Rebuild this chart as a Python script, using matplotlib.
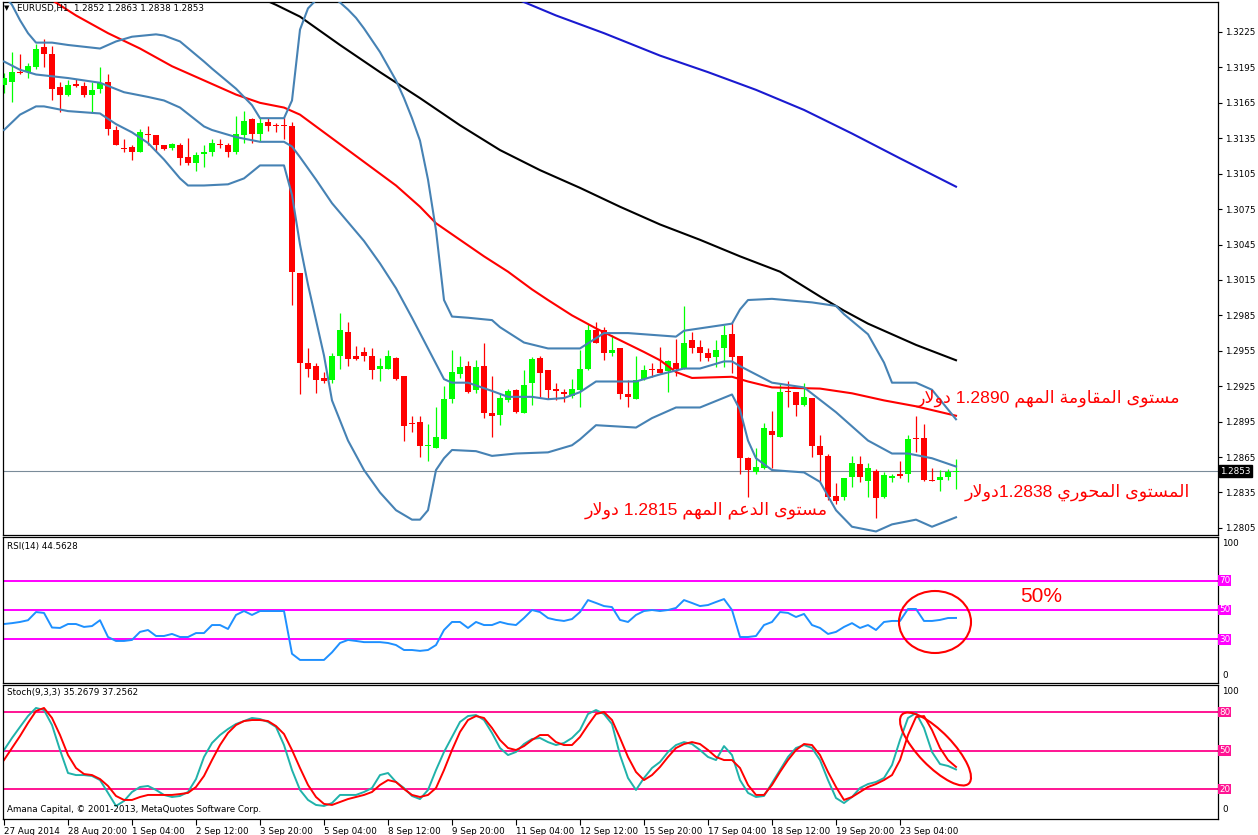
import re
import matplotlib
matplotlib.use('agg')
import matplotlib.pyplot as plt
from matplotlib.patches import Ellipse
import numpy as np

plt.rcParams['font.family'] = ['DejaVu Sans']
plt.rcParams['font.size'] = 6.3

W, H = 1258, 835

# EURUSD candles, oldest first
opens = [1.3180, 1.3183, 1.3191, 1.3191, 1.3195, 1.3212, 1.3206, 1.3178, 1.3172, 1.3181,
         1.3179, 1.3172, 1.3177, 1.3183, 1.3142, 1.3127, 1.3128, 1.3123, 1.3139, 1.3138,
         1.3129, 1.3127, 1.3129, 1.3119, 1.3114, 1.3122, 1.3123, 1.3130, 1.3129, 1.3123,
         1.3138, 1.3151, 1.3139, 1.3149, 1.3146, 1.3146, 1.3145, 1.3021, 1.2945, 1.2942,
         1.2932, 1.2930, 1.2951, 1.2971, 1.2951, 1.2954, 1.2951, 1.2940, 1.2940, 1.2949,
         1.2934, 1.2894, 1.2895, 1.2874, 1.2873, 1.2880, 1.2914, 1.2935, 1.2942, 1.2922,
         1.2942, 1.2902, 1.2901, 1.2913, 1.2922, 1.2902, 1.2928, 1.2949, 1.2939, 1.2923,
         1.2920, 1.2917, 1.2922, 1.2940, 1.2973, 1.2973, 1.2953, 1.2957, 1.2918, 1.2914,
         1.2931, 1.2940, 1.2940, 1.2938, 1.2945, 1.2940, 1.2964, 1.2958, 1.2953, 1.2950,
         1.2957, 1.2969, 1.2951, 1.2864, 1.2852, 1.2856, 1.2887, 1.2882, 1.2921, 1.2920,
         1.2909, 1.2915, 1.2874, 1.2866, 1.2832, 1.2831, 1.2848, 1.2859, 1.2845, 1.2853,
         1.2831, 1.2847, 1.2851, 1.2851, 1.2881, 1.2881, 1.2846, 1.2846, 1.2848, 1.2852]
highs = [1.3190, 1.3208, 1.3206, 1.3199, 1.3215, 1.3219, 1.3213, 1.3183, 1.3184, 1.3185,
         1.3183, 1.3183, 1.3195, 1.3189, 1.3145, 1.3134, 1.3129, 1.3143, 1.3145, 1.3138,
         1.3129, 1.3131, 1.3131, 1.3135, 1.3123, 1.3129, 1.3134, 1.3134, 1.3131, 1.3154,
         1.3158, 1.3152, 1.3152, 1.3152, 1.3148, 1.3153, 1.3149, 1.3021, 1.2957, 1.2945,
         1.2937, 1.2953, 1.2987, 1.2979, 1.2959, 1.2958, 1.2957, 1.2949, 1.2956, 1.2950,
         1.2934, 1.2900, 1.2900, 1.2893, 1.2907, 1.2925, 1.2956, 1.2951, 1.2946, 1.2947,
         1.2962, 1.2934, 1.2919, 1.2923, 1.2923, 1.2939, 1.2950, 1.2951, 1.2939, 1.2928,
         1.2923, 1.2931, 1.2956, 1.2978, 1.2979, 1.2975, 1.2968, 1.2957, 1.2930, 1.2951,
         1.2943, 1.2945, 1.2958, 1.2947, 1.2965, 1.2993, 1.2971, 1.2964, 1.2957, 1.2964,
         1.2977, 1.2979, 1.2951, 1.2865, 1.2873, 1.2894, 1.2904, 1.2927, 1.2929, 1.2920,
         1.2928, 1.2915, 1.2884, 1.2868, 1.2843, 1.2847, 1.2866, 1.2866, 1.2860, 1.2855,
         1.2852, 1.2851, 1.2862, 1.2884, 1.2900, 1.2893, 1.2856, 1.2854, 1.2855, 1.2863]
lows = [1.3173, 1.3166, 1.3189, 1.3186, 1.3194, 1.3195, 1.3167, 1.3157, 1.3171, 1.3178,
        1.3170, 1.3156, 1.3173, 1.3138, 1.3129, 1.3123, 1.3117, 1.3123, 1.3129, 1.3124,
        1.3125, 1.3125, 1.3112, 1.3112, 1.3107, 1.3111, 1.3120, 1.3127, 1.3119, 1.3122,
        1.3131, 1.3131, 1.3133, 1.3141, 1.3140, 1.3134, 1.2994, 1.2918, 1.2933, 1.2919,
        1.2928, 1.2928, 1.2940, 1.2942, 1.2947, 1.2946, 1.2931, 1.2929, 1.2940, 1.2930,
        1.2879, 1.2886, 1.2865, 1.2862, 1.2873, 1.2880, 1.2911, 1.2932, 1.2919, 1.2919,
        1.2898, 1.2882, 1.2892, 1.2912, 1.2902, 1.2902, 1.2909, 1.2915, 1.2914, 1.2913,
        1.2912, 1.2915, 1.2907, 1.2939, 1.2962, 1.2947, 1.2951, 1.2914, 1.2907, 1.2914,
        1.2930, 1.2933, 1.2936, 1.2920, 1.2934, 1.2940, 1.2953, 1.2946, 1.2946, 1.2941,
        1.2941, 1.2936, 1.2851, 1.2831, 1.2851, 1.2855, 1.2856, 1.2882, 1.2907, 1.2900,
        1.2908, 1.2865, 1.2844, 1.2829, 1.2825, 1.2829, 1.2840, 1.2844, 1.2831, 1.2813,
        1.2830, 1.2844, 1.2847, 1.2844, 1.2869, 1.2845, 1.2845, 1.2836, 1.2846, 1.2838]
closes = [1.3186, 1.3191, 1.3190, 1.3196, 1.3211, 1.3206, 1.3177, 1.3172, 1.3180, 1.3179,
          1.3172, 1.3176, 1.3182, 1.3143, 1.3129, 1.3126, 1.3123, 1.3140, 1.3138, 1.3129,
          1.3126, 1.3130, 1.3118, 1.3114, 1.3121, 1.3123, 1.3131, 1.3129, 1.3123, 1.3139,
          1.3150, 1.3139, 1.3148, 1.3145, 1.3145, 1.3145, 1.3022, 1.2945, 1.2940, 1.2930,
          1.2929, 1.2951, 1.2973, 1.2948, 1.2948, 1.2951, 1.2939, 1.2942, 1.2951, 1.2931,
          1.2891, 1.2893, 1.2874, 1.2875, 1.2882, 1.2914, 1.2937, 1.2941, 1.2920, 1.2941,
          1.2902, 1.2900, 1.2915, 1.2921, 1.2903, 1.2926, 1.2948, 1.2936, 1.2922, 1.2921,
          1.2918, 1.2923, 1.2940, 1.2973, 1.2962, 1.2953, 1.2956, 1.2918, 1.2916, 1.2930,
          1.2939, 1.2939, 1.2936, 1.2946, 1.2940, 1.2962, 1.2957, 1.2953, 1.2949, 1.2956,
          1.2968, 1.2950, 1.2864, 1.2854, 1.2857, 1.2890, 1.2884, 1.2920, 1.2920, 1.2909,
          1.2916, 1.2874, 1.2867, 1.2831, 1.2828, 1.2847, 1.2860, 1.2848, 1.2856, 1.2830,
          1.2850, 1.2849, 1.2849, 1.2880, 1.2880, 1.2846, 1.2845, 1.2848, 1.2852, 1.2853]

# Bollinger bands and moving averages, read as (bar, price) vertices
bb_up_bars = [0, 1, 2, 3, 4, 6, 8, 12, 14, 16, 19, 20, 22, 25, 26, 29, 31, 32, 35, 36,
              37, 38, 39, 40, 41, 42, 43, 44, 45, 46, 47, 48, 49, 50, 51, 52, 53, 54, 55, 56,
              58, 61, 62, 65, 68, 72, 75, 78, 84, 85, 91, 92, 93, 96, 101, 104, 105, 108, 110, 111,
              114, 116, 119]
bb_up = [1.3256, 1.3248, 1.3235, 1.3224, 1.3216, 1.3216, 1.3214, 1.3211, 1.3217, 1.3221,
         1.3223, 1.3222, 1.3217, 1.3200, 1.3194, 1.3177, 1.3163, 1.3152, 1.3152, 1.3167,
         1.3227, 1.3245, 1.3252, 1.3256, 1.3255, 1.3250, 1.3244, 1.3237, 1.3228, 1.3218,
         1.3208, 1.3196, 1.3184, 1.3169, 1.3152, 1.3133, 1.3100, 1.3057, 1.2998, 1.2984,
         1.2983, 1.2981, 1.2975, 1.2962, 1.2957, 1.2957, 1.2970, 1.2970, 1.2967, 1.2972,
         1.2978, 1.2990, 1.2998, 1.2999, 1.2996, 1.2993, 1.2986, 1.2969, 1.2945, 1.2928,
         1.2928, 1.2922, 1.2897]
bb_mid_bars = [0, 2, 4, 8, 12, 15, 18, 20, 22, 25, 26, 29, 32, 35, 36, 37, 39, 41, 43, 45,
               47, 49, 51, 53, 55, 56, 58, 61, 63, 66, 68, 70, 72, 74, 79, 82, 85, 87, 90, 91,
               92, 96, 100, 104, 108, 111, 113, 116, 119]
bb_mid = [1.3200, 1.3193, 1.3189, 1.3186, 1.3182, 1.3174, 1.3170, 1.3167, 1.3161, 1.3145,
          1.3142, 1.3136, 1.3132, 1.3132, 1.3128, 1.3119, 1.3100, 1.3080, 1.3064, 1.3048,
          1.3029, 1.3008, 1.2983, 1.2957, 1.2931, 1.2928, 1.2928, 1.2921, 1.2916, 1.2916,
          1.2914, 1.2915, 1.2920, 1.2929, 1.2929, 1.2935, 1.2940, 1.2940, 1.2946, 1.2946,
          1.2942, 1.2928, 1.2924, 1.2903, 1.2879, 1.2868, 1.2868, 1.2864, 1.2857]
bb_low_bars = [0, 2, 4, 5, 8, 12, 14, 16, 18, 20, 22, 23, 25, 28, 30, 32, 35, 36, 37, 38,
               39, 40, 41, 43, 45, 47, 49, 51, 52, 53, 54, 55, 56, 59, 61, 64, 68, 71, 72, 74,
               79, 81, 84, 87, 91, 92, 93, 94, 96, 100, 102, 104, 106, 109, 111, 114, 116, 119]
bb_low = [1.3142, 1.3155, 1.3162, 1.3162, 1.3158, 1.3156, 1.3147, 1.3140, 1.3131, 1.3117,
          1.3101, 1.3095, 1.3095, 1.3096, 1.3101, 1.3112, 1.3112, 1.3087, 1.3045, 1.3011,
          1.2981, 1.2951, 1.2913, 1.2879, 1.2854, 1.2835, 1.2820, 1.2812, 1.2812, 1.2820,
          1.2854, 1.2864, 1.2871, 1.2870, 1.2866, 1.2868, 1.2869, 1.2875, 1.2880, 1.2892,
          1.2890, 1.2898, 1.2907, 1.2907, 1.2918, 1.2905, 1.2879, 1.2864, 1.2854, 1.2852,
          1.2844, 1.2820, 1.2806, 1.2802, 1.2808, 1.2812, 1.2806, 1.2814]
ma_red_bars = [5, 6, 9, 13, 17, 21, 25, 29, 32, 35, 37, 39, 43, 45, 49, 52, 54, 57, 60, 63,
               66, 68, 71, 74, 77, 80, 82, 84, 86, 91, 93, 96, 102, 106, 110, 114, 119]
ma_red = [1.3262, 1.3252, 1.3239, 1.3224, 1.3211, 1.3196, 1.3184, 1.3172, 1.3165, 1.3161,
          1.3155, 1.3145, 1.3125, 1.3115, 1.3095, 1.3077, 1.3063, 1.3049, 1.3035, 1.3022,
          1.3007, 1.2998, 1.2985, 1.2974, 1.2964, 1.2954, 1.2947, 1.2937, 1.2932, 1.2933,
          1.2929, 1.2924, 1.2923, 1.2919, 1.2913, 1.2908, 1.2900]
ma_black_bars = [32, 34, 37, 42, 47, 52, 57, 62, 67, 72, 77, 82, 87, 92, 97, 102, 105, 108, 111, 114, 119]
ma_black = [1.3254, 1.3248, 1.3238, 1.3214, 1.3191, 1.3169, 1.3146, 1.3125, 1.3108, 1.3093,
            1.3077, 1.3062, 1.3049, 1.3035, 1.3022, 1.3001, 1.2989, 1.2978, 1.2969, 1.2960, 1.2947]
ma_blue_bars = [63, 69, 75, 82, 88, 94, 100, 106, 112, 119]
ma_blue = [1.3256, 1.3239, 1.3224, 1.3205, 1.3191, 1.3176, 1.3159, 1.3139, 1.3118, 1.3094]

rsi = [40.4, 41.0, 41.8, 43.0, 48.6, 48.0, 38.0, 37.7, 40.4, 40.4,
       38.4, 39.0, 43.0, 31.5, 28.8, 28.8, 29.5, 35.0, 36.3, 32.2,
       32.2, 33.6, 31.5, 31.5, 34.2, 34.2, 39.7, 39.7, 37.0, 46.6,
       49.3, 46.6, 49.3, 49.3, 49.3, 49.3, 20.0, 15.8, 15.8, 15.8,
       15.8, 21.0, 27.4, 29.5, 28.8, 28.0, 28.0, 28.0, 27.4, 26.0,
       22.6, 22.6, 22.0, 22.6, 26.0, 36.3, 41.8, 41.8, 37.7, 41.8,
       39.7, 39.7, 41.8, 40.4, 39.7, 44.5, 50.0, 48.6, 44.5, 43.2,
       42.5, 43.8, 48.6, 56.8, 54.8, 52.7, 52.0, 43.2, 41.8, 46.6,
       49.3, 50.0, 49.3, 50.0, 51.4, 56.8, 54.8, 52.7, 53.4, 55.5,
       57.5, 50.0, 31.5, 31.5, 32.2, 39.7, 41.8, 48.6, 48.0, 45.2,
       47.3, 39.7, 37.7, 33.6, 35.0, 38.4, 41.0, 37.7, 39.7, 36.3,
       41.8, 42.5, 42.5, 50.7, 50.7, 42.5, 42.5, 43.2, 44.5, 44.5628]
stoch_k = [50.4, 59.8, 68.4, 76.9, 83.2, 81.6, 69.9, 50.4, 32.5, 30.9,
           30.9, 30.2, 27.0, 17.0, 6.8, 10.7, 17.7, 21.6, 22.4, 19.3,
           15.4, 13.8, 14.6, 17.7, 27.8, 45.0, 55.9, 62.1, 66.8, 70.7,
           73.0, 75.4, 74.6, 72.3, 68.4, 54.3, 34.8, 19.3, 11.5, 7.6,
           6.8, 9.1, 15.4, 15.4, 15.4, 17.7, 20.8, 30.9, 32.5, 25.5,
           20.8, 14.6, 12.2, 19.3, 34.8, 48.9, 60.6, 72.3, 76.9, 77.7,
           73.8, 63.7, 52.0, 46.5, 48.9, 55.1, 59.0, 59.8, 56.6, 54.3,
           55.9, 59.8, 66.0, 78.5, 81.6, 78.5, 70.7, 46.5, 28.6, 19.3,
           28.6, 36.4, 41.1, 48.9, 54.3, 56.6, 55.1, 50.4, 45.0, 42.6,
           53.5, 46.5, 27.0, 17.0, 13.8, 14.6, 24.7, 34.8, 45.0, 52.0,
           54.3, 52.0, 42.6, 27.0, 13.0, 9.1, 13.8, 20.8, 23.9, 25.5,
           28.6, 38.7, 58.2, 75.4, 79.3, 67.6, 48.9, 39.5, 38.0, 35.2679]
stoch_d = [42.6, 52.0, 61.3, 71.5, 80.8, 83.2, 75.4, 62.1, 46.5, 36.4,
           31.7, 30.9, 27.8, 22.4, 14.6, 11.5, 11.5, 13.8, 15.4, 15.4,
           15.4, 15.4, 16.1, 17.0, 21.6, 30.2, 42.6, 54.3, 63.7, 69.9,
           73.0, 73.8, 73.8, 73.0, 69.1, 62.9, 50.4, 36.4, 23.2, 13.8,
           8.4, 7.6, 9.9, 12.2, 13.8, 15.4, 17.7, 23.2, 27.0, 25.5,
           20.0, 15.4, 13.8, 15.4, 20.8, 34.8, 50.4, 64.5, 73.8, 76.9,
           75.4, 67.6, 58.2, 52.0, 50.4, 53.5, 58.2, 62.1, 62.1, 56.6,
           54.3, 54.3, 60.6, 69.9, 78.5, 80.0, 73.8, 59.8, 45.0, 33.3,
           27.0, 30.9, 37.2, 45.0, 52.0, 55.1, 56.6, 55.1, 50.4, 45.0,
           42.6, 42.6, 36.4, 23.2, 15.4, 15.4, 23.2, 33.3, 42.6, 50.4,
           55.1, 54.3, 46.5, 33.3, 21.6, 11.5, 13.8, 17.7, 21.6, 23.9,
           27.0, 30.9, 42.6, 62.1, 76.1, 76.9, 66.0, 52.0, 42.6, 37.2562]

price_ticks = [1.3225, 1.3195, 1.3165, 1.3135, 1.3105, 1.3075, 1.3045, 1.3015,
               1.2985, 1.2955, 1.2925, 1.2895, 1.2865, 1.2835, 1.2805]
rsi_levels = [70, 50, 30]
stoch_levels = [80, 50, 20]
time_bars = [0, 8, 16, 24, 32, 40, 48, 56, 64, 72, 80, 88, 96, 104, 112]
time_labels = ['27 Aug 2014', '28 Aug 20:00', '1 Sep 04:00', '2 Sep 12:00', '3 Sep 20:00',
               '5 Sep 04:00', '8 Sep 12:00', '9 Sep 20:00', '11 Sep 04:00', '12 Sep 12:00',
               '15 Sep 20:00', '17 Sep 04:00', '18 Sep 12:00', '19 Sep 20:00', '23 Sep 04:00']

note_resistance = 'مستوى المقاومة المهم 1.2890 دولار'
note_pivot = 'المستوى المحوري 1.2838دولار'
note_support = 'مستوى الدعم المهم 1.2815 دولار'

# contextual forms (isolated, final[, initial, medial]) for the letters used
ARABIC_FORMS = {
    '\u0627': ('\uFE8D', '\uFE8E'),
    '\u062F': ('\uFEA9', '\uFEAA'),
    '\u0631': ('\uFEAD', '\uFEAE'),
    '\u0648': ('\uFEED', '\uFEEE'),
    '\u0629': ('\uFE93', '\uFE94'),
    '\u0649': ('\uFEEF', '\uFEF0'),
    '\u0645': ('\uFEE1', '\uFEE2', '\uFEE3', '\uFEE4'),
    '\u0633': ('\uFEB1', '\uFEB2', '\uFEB3', '\uFEB4'),
    '\u062A': ('\uFE95', '\uFE96', '\uFE97', '\uFE98'),
    '\u0644': ('\uFEDD', '\uFEDE', '\uFEDF', '\uFEE0'),
    '\u0642': ('\uFED5', '\uFED6', '\uFED7', '\uFED8'),
    '\u0647': ('\uFEE9', '\uFEEA', '\uFEEB', '\uFEEC'),
    '\u062D': ('\uFEA1', '\uFEA2', '\uFEA3', '\uFEA4'),
    '\u064A': ('\uFEF1', '\uFEF2', '\uFEF3', '\uFEF4'),
    '\u0639': ('\uFEC9', '\uFECA', '\uFECB', '\uFECC'),
}


def shape_arabic(text):
    # matplotlib has no Arabic shaping, so join the letters and lay them out right to left
    out = []
    prev_joins = False
    i = 0
    while i < len(text):
        ch = text[i]
        nxt = text[i + 1] if i + 1 < len(text) else ''
        if ch not in ARABIC_FORMS:
            out.append(ch)
            prev_joins = False
            i += 1
            continue
        if ch == '\u0644' and nxt == '\u0627':
            out.append('\uFEFC' if prev_joins else '\uFEFB')
            prev_joins = False
            i += 2
            continue
        forms = ARABIC_FORMS[ch]
        next_ok = len(forms) == 4 and nxt in ARABIC_FORMS
        if prev_joins and next_ok:
            out.append(forms[3])
        elif prev_joins:
            out.append(forms[1])
        elif next_ok:
            out.append(forms[2])
        else:
            out.append(forms[0])
        prev_joins = len(forms) == 4
        i += 1
    vis = ''.join(reversed(out))
    return re.sub(r'[0-9.]+', lambda m: m.group(0)[::-1], vis)


def fx(x):
    return x / W


def fy(y):
    return 1 - y / H


fig = plt.figure(figsize=(W / 100, H / 100), dpi=100)
fig.patch.set_facecolor('white')


def panel(top, bottom):
    ax = fig.add_axes([fx(3), fy(bottom), fx(1218) - fx(3), fy(top) - fy(bottom)])
    ax.set_xlim(-0.125, 151.75)
    ax.yaxis.tick_right()
    ax.tick_params(axis='y', direction='out', length=3, width=0.8, pad=2, labelsize=6.3)
    ax.tick_params(axis='x', bottom=False, labelbottom=False)
    for sp in ax.spines.values():
        sp.set_linewidth(0.9)
    return ax


idx = np.arange(len(closes))
o = np.array(opens)
h = np.array(highs)
l = np.array(lows)
c = np.array(closes)
colors = np.where(c >= o, '#00FF00', '#FF0000')

# --- price window
ax = panel(2, 535)
ax.set_ylim(1.27990, 1.32504)
ax.set_yticks(price_ticks)
ax.set_yticklabels(['%.4f' % p for p in price_ticks])
ax.axhline(closes[-1], color='#7A8B99', lw=0.8, zorder=1)
ax.vlines(idx, l, h, colors=colors, lw=0.9, zorder=2)
ax.bar(idx, np.maximum(np.abs(c - o), 0.00009), bottom=np.minimum(o, c),
       width=0.65, color=colors, lw=0, zorder=3)
ax.plot(ma_blue_bars, ma_blue, color='#1A1AD0', lw=1.5, zorder=4)
ax.plot(ma_black_bars, ma_black, color='black', lw=1.5, zorder=4)
ax.plot(ma_red_bars, ma_red, color='#FF0000', lw=1.5, zorder=4)
for bars, vals in ((bb_up_bars, bb_up), (bb_mid_bars, bb_mid), (bb_low_bars, bb_low)):
    ax.plot(bars, vals, color='#4682B4', lw=1.5, zorder=5)
ax.text(1.0015, closes[-1], '%.4f' % closes[-1], transform=ax.get_yaxis_transform(),
        ha='left', va='center', color='white', fontsize=6.3,
        bbox=dict(boxstyle='square,pad=0.15', fc='black', ec='black'))
fig.text(fx(4), fy(8), '\u25BC', fontsize=5, va='center')
fig.text(fx(17), fy(9), 'EURUSD,H1  %.4f %.4f %.4f %.4f' % (opens[-1], highs[-1], lows[-1], closes[-1]),
         va='center')

# --- RSI window
ax2 = panel(537, 683)
ax2.set_ylim(0, 100)
ax2.set_yticks([])
for lv in rsi_levels:
    ax2.axhline(lv, color='#FF00FF', lw=1.4)
    ax2.text(1.0008, lv, str(lv), transform=ax2.get_yaxis_transform(), ha='left', va='center',
             color='white', fontsize=6.3, bbox=dict(boxstyle='square,pad=0.1', fc='#FF00FF', ec='none'))
ax2.plot(idx, rsi, color='#1E90FF', lw=1.4)
fig.text(fx(7), fy(546), 'RSI(14) %.4f' % rsi[-1], va='center')
fig.text(fx(1222), fy(544), '100', va='center')
fig.text(fx(1222), fy(676), '0', va='center')

# --- Stochastic window
ax3 = panel(685, 819)
ax3.set_ylim(-3.35, 101.1)
ax3.set_yticks([])
for lv in stoch_levels:
    ax3.axhline(lv, color='#FF1493', lw=1.4)
    ax3.text(1.0008, lv, str(lv), transform=ax3.get_yaxis_transform(), ha='left', va='center',
             color='white', fontsize=6.3, bbox=dict(boxstyle='square,pad=0.1', fc='#FF1493', ec='none'))
ax3.plot(idx, stoch_k, color='#20B2AA', lw=1.4)
ax3.plot(idx, stoch_d, color='#FF0000', lw=1.4)
ax3.set_xticks(time_bars)
ax3.set_xticklabels(time_labels, ha='left')
ax3.tick_params(axis='x', bottom=True, labelbottom=True, length=4, width=0.8, pad=1.5, labelsize=6.3)
fig.text(fx(7), fy(692), 'Stoch(9,3,3) %.4f %.4f' % (stoch_k[-1], stoch_d[-1]), va='center')
fig.text(fx(1222), fy(692), '100', va='center')
fig.text(fx(1222), fy(810), '0', va='center')
fig.text(fx(7), fy(809), 'Amana Capital, \u00A9 2001-2013, MetaQuotes Software Corp.', va='center')

# --- hand drawn notes
arabic_font = ['Liberation Sans', 'DejaVu Sans']
fig.text(fx(1180), fy(398), shape_arabic(note_resistance), ha='right', va='center',
         color='#FF0000', fontsize=12.6, family=arabic_font)
fig.text(fx(1190), fy(492), shape_arabic(note_pivot), ha='right', va='center',
         color='#FF0000', fontsize=12.6, family=arabic_font)
fig.text(fx(828), fy(510), shape_arabic(note_support), ha='right', va='center',
         color='#FF0000', fontsize=12.6, family=arabic_font)
fig.text(fx(1020), fy(597), '50%', ha='left', va='center', color='#FF0000', fontsize=15,
         family=arabic_font)
fig.add_artist(Ellipse((9.35, (H - 622) / 100), 0.72, 0.62, transform=fig.dpi_scale_trans,
                       fill=False, ec='#FF0000', lw=1.5))
fig.add_artist(Ellipse((9.355, (H - 749) / 100), 0.96, 0.34, angle=-46,
                       transform=fig.dpi_scale_trans, fill=False, ec='#FF0000', lw=1.5))

fig.savefig('out.png', dpi=100)
plt.close(fig)
